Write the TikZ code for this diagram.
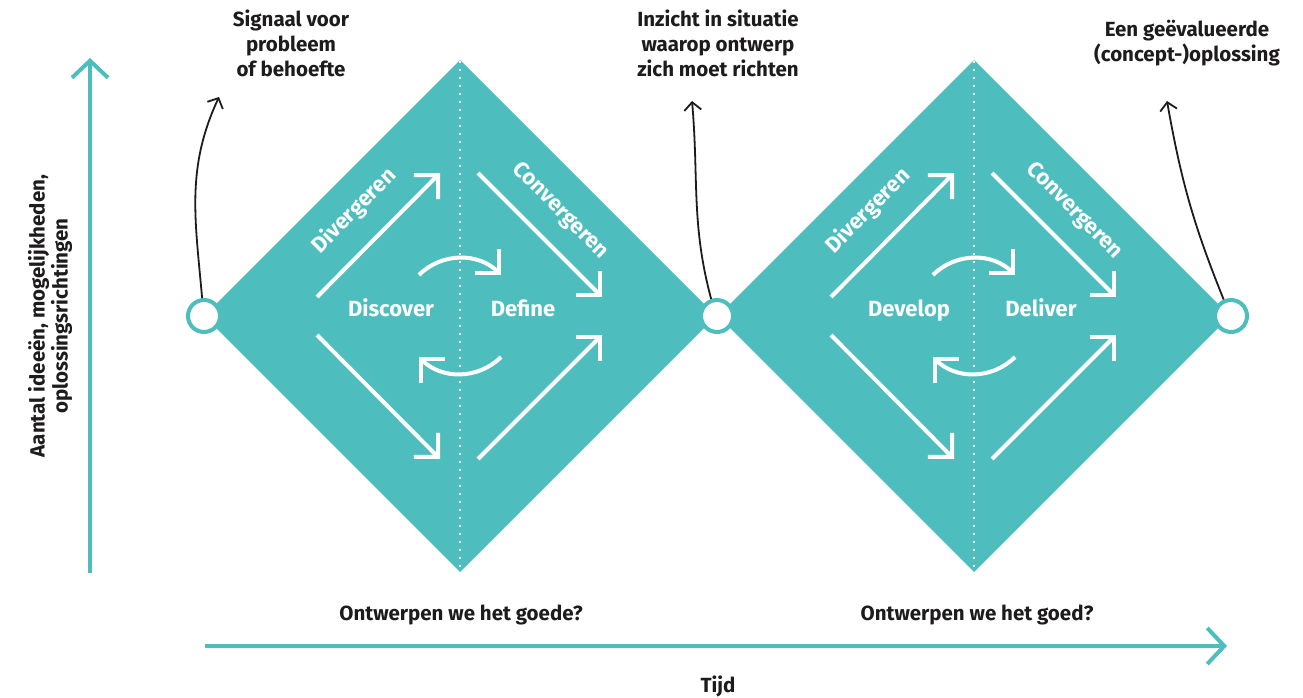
\documentclass[tikz,border=0pt]{standalone}
\usepackage{fontspec}
\setmainfont{Fira Sans}
\usetikzlibrary{arrows.meta}
\definecolor{teal1}{RGB}{77,190,189}
\definecolor{ink}{RGB}{30,27,28}
\begin{document}
\begin{tikzpicture}[x=1pt,y=1pt,
  wa/.style={white, line width=4pt, -{Straight Barb[length=17pt,width=34pt]}},
  ba/.style={ink, line width=1.8pt, -{Straight Barb[length=8pt,width=17pt]}},
  axisline/.style={teal1, line width=4pt, -{Straight Barb[length=17pt,width=36pt]}},
  lab/.style={font=\bfseries\fontsize{20.5}{25}\selectfont, text=ink, align=center, inner sep=0pt},
  inlab/.style={font=\bfseries\fontsize{22}{24}\selectfont, text=white, inner sep=0pt},
  circ/.style={circle, draw=teal1, fill=white, line width=4pt, minimum size=32pt, inner sep=0pt},
  dots/.style={white, line width=2pt, dash pattern=on 2pt off 6pt}]
\useasboundingbox (0,0) rectangle (1303,-698);

% diamonds
\fill[teal1] (204,-316) -- (460,-60) -- (716,-316) -- (460,-572) -- cycle;
\fill[teal1] (718,-316) -- (974,-60) -- (1230,-316) -- (974,-572) -- cycle;

% contents of both diamonds
\foreach \cx/\n in {460/L,974/R}{
  \begin{scope}[shift={(\cx,-316)}]
    \draw[dots] (0,255) -- (0,-255);
    \coordinate (ula\n) at (-143,19);  \coordinate (ulb\n) at (-20,143);
    \coordinate (ura\n) at (18,143);   \coordinate (urb\n) at (142,19);
    \coordinate (lla\n) at (-143,-19); \coordinate (llb\n) at (-20,-143);
    \coordinate (lra\n) at (18,-143);  \coordinate (lrb\n) at (142,-19);
    \draw[wa] (ula\n) -- (ulb\n);
    \draw[wa] (ura\n) -- (urb\n);
    \draw[wa] (lla\n) -- (llb\n);
    \draw[wa] (lra\n) -- (lrb\n);
    \draw[wa] (135:58) arc[start angle=135, end angle=45, radius=58];
    \draw[wa] (-45:58) arc[start angle=-45, end angle=-135, radius=58];
    \node[inlab, rotate=45] (div\n) at (-106,105) {Divergeren};
    \node[inlab, rotate=-45] (con\n) at (100,105) {Convergeren};
  \end{scope}
}

\node[inlab, anchor=base] (discover) at (391,-316) {Discover};
\node[inlab, anchor=base] (define) at (523,-316) {Define};
\node[inlab, anchor=base] (develop) at (909,-316) {Develop};
\node[inlab, anchor=base] (deliver) at (1041,-316) {Deliver};

% circles
\node[circ] (c1) at (204,-316) {};
\node[circ] (c2) at (717,-316) {};
\node[circ] (c3) at (1231,-316) {};

% top labels
\node[lab, anchor=north] (sig) at (291,-10) {Signaal voor\\probleem\\of behoefte};
\node[lab, anchor=north] (inz) at (718,-10) {Inzicht in situatie\\waarop ontwerp\\zich moet richten};
\node[lab, anchor=north] (een) at (1187,-20) {Een geëvalueerde\\(concept-)oplossing};

% curved black arrows
\coordinate (t1) at (219,-97);
\coordinate (t2) at (692,-101);
\coordinate (t3) at (1167,-101);
\draw[ba] (c1.96) to[out=95,in=-115] (t1);
\draw[ba] (c2.109) to[out=105,in=-85] (t2);
\draw[ba] (c3.114) to[out=112,in=-80] (t3);

% axes
\coordinate (yb) at (90,-573);
\coordinate (yt) at (90,-58);
\coordinate (xb) at (205,-646);
\coordinate (xt) at (1227,-646);
\draw[axisline] (yb) -- (yt);
\draw[axisline] (xb) -- (xt);

\node[lab, rotate=90, font=\bfseries\fontsize{20.5}{23}\selectfont] (ylab) at (50,-316) {Aantal ideeën, mogelijkheden,\\oplossingsrichtingen};
\node[lab, anchor=base] (q1) at (461,-620) {Ontwerpen we het goede?};
\node[lab, anchor=base] (q2) at (977,-620) {Ontwerpen we het goed?};
\node[lab, anchor=base] (tijd) at (718,-692) {Tijd};
\end{tikzpicture}
\end{document}
